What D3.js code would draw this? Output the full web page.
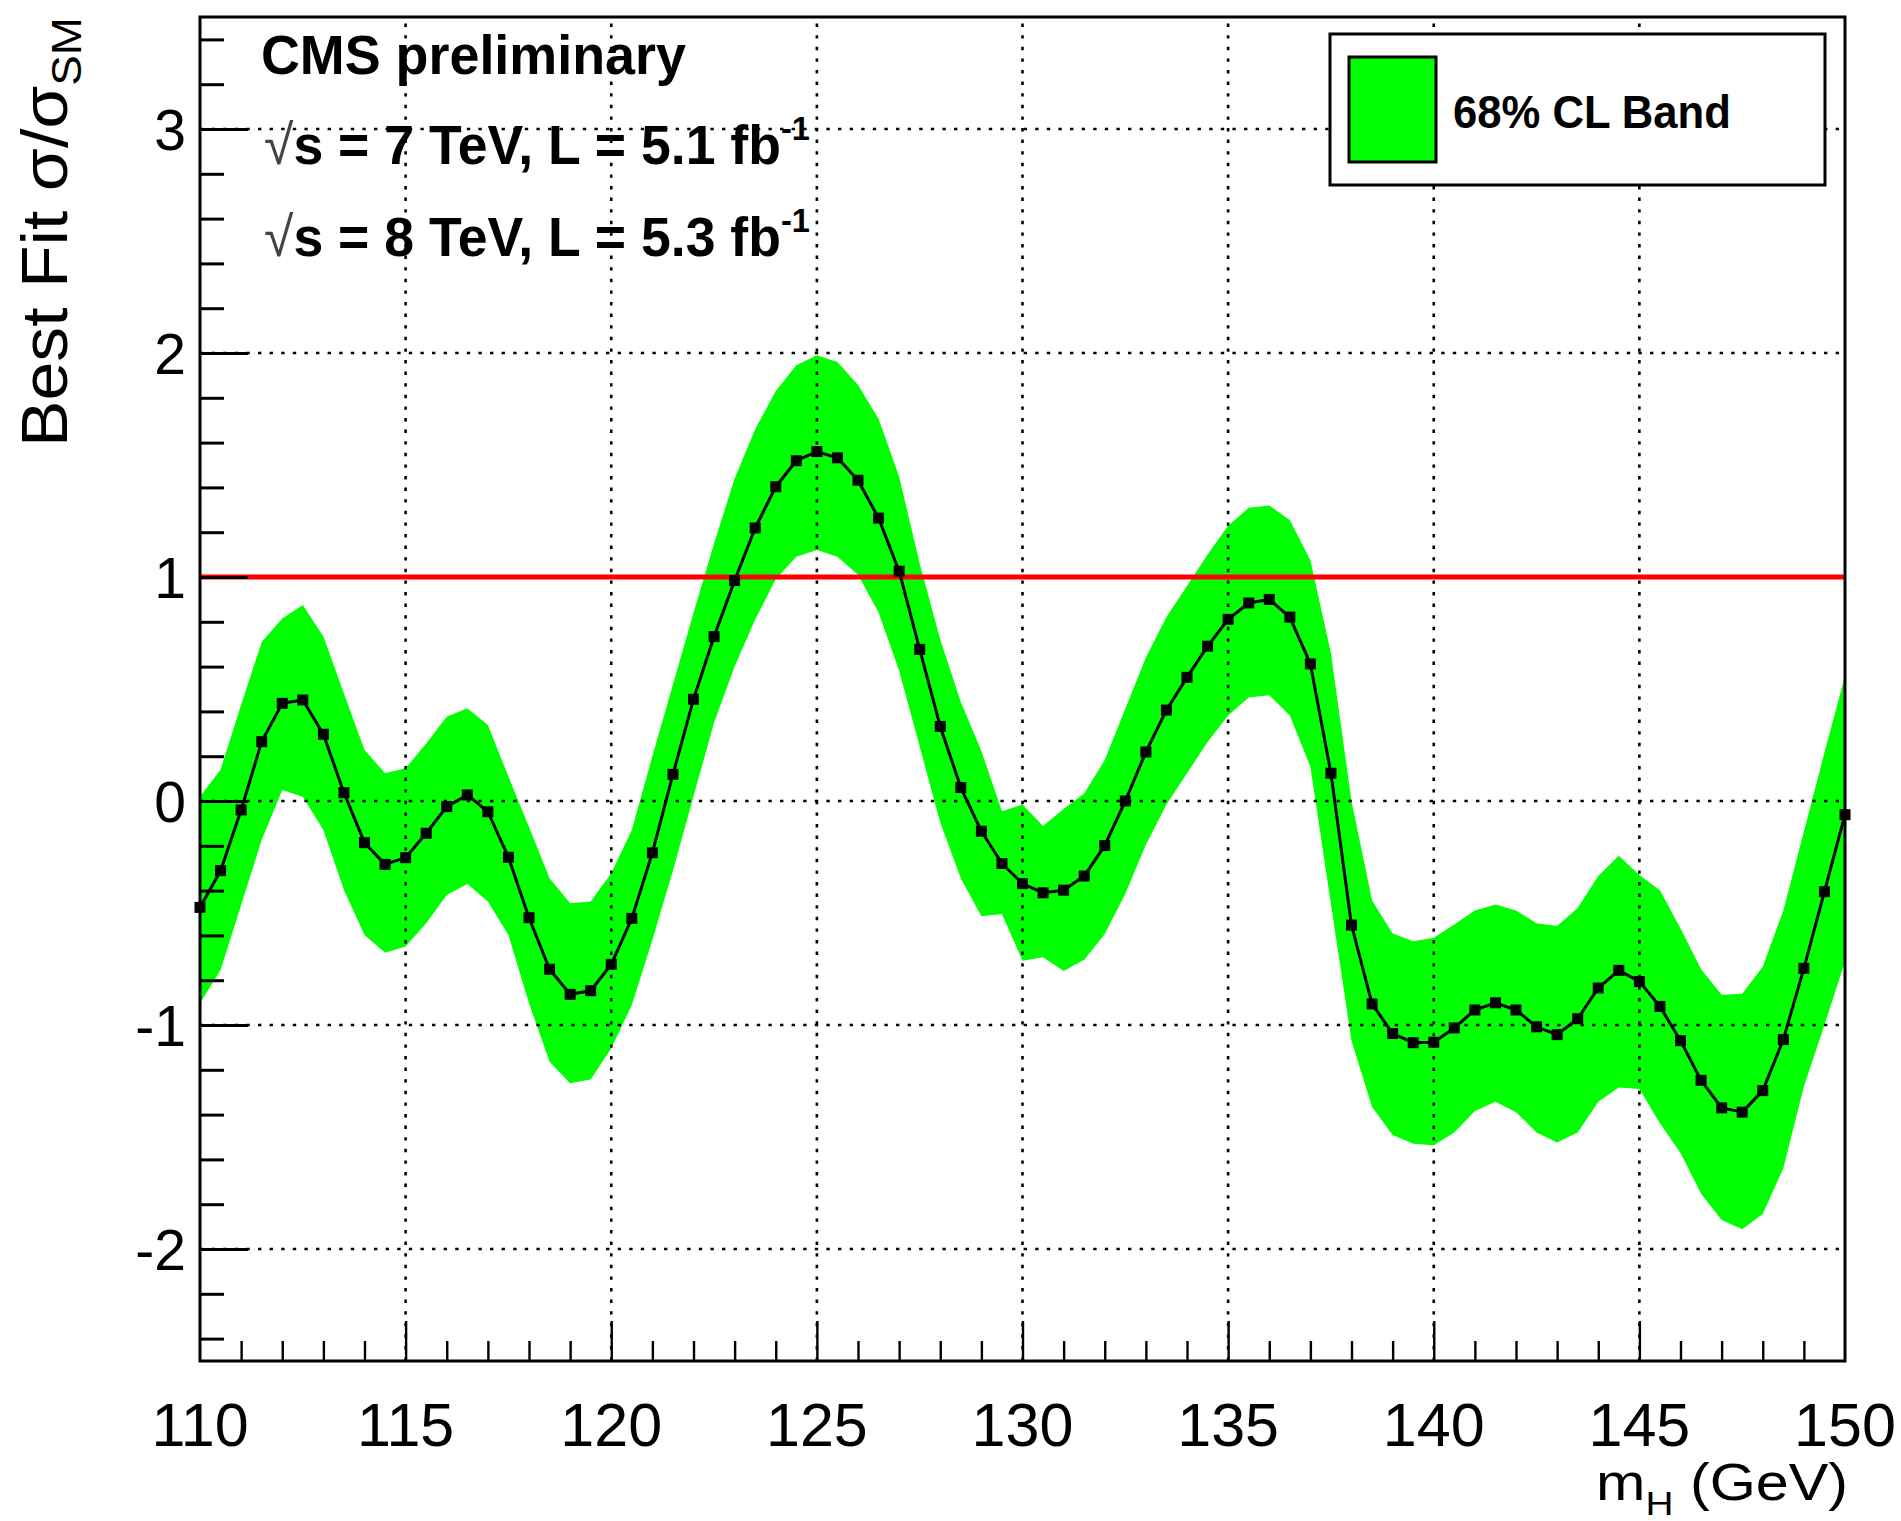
<!DOCTYPE html>
<html>
<head>
<meta charset="utf-8">
<script src="https://cdn.jsdelivr.net/npm/d3@7"></script>
<style>
  html, body { margin: 0; padding: 0; background: #ffffff; }
  svg { display: block; }
</style>
</head>
<body>
<svg id="chart" width="1901" height="1521"></svg>
<script>
// Higgs mass hypotheses (GeV)
const massPoints = [
  110, 110.5, 111, 111.5, 112, 112.5, 113, 113.5, 114, 114.5,
  115, 115.5, 116, 116.5, 117, 117.5, 118, 118.5, 119, 119.5,
  120, 120.5, 121, 121.5, 122, 122.5, 123, 123.5, 124, 124.5,
  125, 125.5, 126, 126.5, 127, 127.5, 128, 128.5, 129, 129.5,
  130, 130.5, 131, 131.5, 132, 132.5, 133, 133.5, 134, 134.5,
  135, 135.5, 136, 136.5, 137, 137.5, 138, 138.5, 139, 139.5,
  140, 140.5, 141, 141.5, 142, 142.5, 143, 143.5, 144, 144.5,
  145, 145.5, 146, 146.5, 147, 147.5, 148, 148.5, 149, 149.5,
  150
];

// Best-fit signal strength sigma/sigma_SM
const bestFit = [
  -0.475, -0.311, -0.040, 0.265, 0.436, 0.451, 0.298, 0.037, -0.186, -0.283,
  -0.253, -0.144, -0.025, 0.027, -0.048, -0.251, -0.521, -0.751, -0.863, -0.847,
  -0.729, -0.524, -0.231, 0.119, 0.454, 0.734, 0.984, 1.219, 1.403, 1.519,
  1.560, 1.532, 1.432, 1.263, 1.026, 0.677, 0.333, 0.060, -0.135, -0.279,
  -0.369, -0.410, -0.398, -0.335, -0.199, 0.000, 0.219, 0.406, 0.552, 0.691,
  0.811, 0.884, 0.900, 0.821, 0.612, 0.124, -0.554, -0.906, -1.038, -1.079,
  -1.077, -1.013, -0.933, -0.901, -0.933, -1.008, -1.043, -0.972, -0.835, -0.756,
  -0.806, -0.917, -1.070, -1.247, -1.370, -1.389, -1.293, -1.065, -0.747, -0.405,
  -0.061
];

// 68% CL band, upper edge
const bandUpper = [
  0.020, 0.140, 0.430, 0.710, 0.815, 0.875, 0.734, 0.480, 0.228, 0.124,
  0.146, 0.257, 0.376, 0.414, 0.339, 0.109, -0.116, -0.345, -0.457, -0.449,
  -0.323, -0.129, 0.200, 0.520, 0.840, 1.150, 1.440, 1.660, 1.830, 1.945,
  1.990, 1.960, 1.857, 1.707, 1.448, 1.060, 0.721, 0.442, 0.223, -0.046,
  -0.016, -0.112, -0.036, 0.034, 0.183, 0.412, 0.641, 0.821, 0.960, 1.100,
  1.229, 1.309, 1.319, 1.255, 1.075, 0.660, 0.000, -0.444, -0.592, -0.626,
  -0.610, -0.551, -0.489, -0.462, -0.489, -0.546, -0.558, -0.478, -0.335, -0.244,
  -0.330, -0.398, -0.569, -0.751, -0.865, -0.860, -0.740, -0.489, -0.137, 0.216,
  0.558
];

// 68% CL band, lower edge
const bandLower = [
  -0.903, -0.754, -0.464, -0.174, 0.049, 0.019, -0.129, -0.397, -0.598, -0.677,
  -0.650, -0.546, -0.420, -0.371, -0.449, -0.598, -0.903, -1.164, -1.260, -1.243,
  -1.104, -0.911, -0.620, -0.310, 0.020, 0.350, 0.600, 0.810, 0.990, 1.090,
  1.120, 1.090, 1.010, 0.841, 0.582, 0.243, -0.096, -0.345, -0.514, -0.504,
  -0.713, -0.697, -0.759, -0.709, -0.594, -0.414, -0.195, -0.016, 0.124, 0.263,
  0.382, 0.462, 0.472, 0.382, 0.153, -0.460, -1.070, -1.366, -1.491, -1.530,
  -1.537, -1.480, -1.384, -1.343, -1.389, -1.480, -1.525, -1.480, -1.343, -1.279,
  -1.286, -1.439, -1.571, -1.753, -1.871, -1.912, -1.844, -1.639, -1.275, -1.000,
  -0.717
];

const xTickValues = [110, 115, 120, 125, 130, 135, 140, 145, 150];
const yTickValues = [-2, -1, 0, 1, 2, 3];
const smExpectation = 1;

const FONT = "'Liberation Sans', Arial, Helvetica, sans-serif";
const W = 1901, H = 1521;
const plot = { left: 200, right: 1845, top: 17, bottom: 1361 };

const svg = d3.select('#chart');
svg.append('rect').attr('width', W).attr('height', H).attr('fill', '#ffffff');

const x = d3.scaleLinear().domain([110, 150]).range([plot.left, plot.right]);
const y = d3.scaleLinear().domain([-2.5, 3.5]).range([plot.bottom, plot.top]);

const rows = massPoints.map((m, i) => ({ m, mu: bestFit[i], hi: bandUpper[i], lo: bandLower[i] }));

// 68% CL band
const band = d3.area()
  .x(d => x(d.m))
  .y0(d => y(d.lo))
  .y1(d => y(d.hi));
svg.append('path')
  .datum(rows)
  .attr('d', band)
  .attr('fill', '#00ff00')
  .attr('stroke', 'none');

// Dotted grid at the major ticks
const grid = svg.append('g')
  .attr('stroke', '#000')
  .attr('stroke-width', 2.6)
  .attr('stroke-dasharray', '3.4,8.2')
  .attr('fill', 'none');
grid.selectAll('line.gx')
  .data(xTickValues.filter(v => v > 110 && v < 150))
  .join('line')
  .attr('class', 'gx')
  .attr('x1', d => x(d)).attr('x2', d => x(d))
  .attr('y1', plot.bottom).attr('y2', plot.top);
grid.selectAll('line.gy')
  .data(yTickValues)
  .join('line')
  .attr('class', 'gy')
  .attr('x1', plot.left).attr('x2', plot.right)
  .attr('y1', d => y(d)).attr('y2', d => y(d));

// SM expectation
svg.append('line')
  .attr('x1', x(110)).attr('x2', x(150))
  .attr('y1', y(smExpectation)).attr('y2', y(smExpectation))
  .attr('stroke', '#ff0000')
  .attr('stroke-width', 5);

// Best-fit curve with markers
const line = d3.line().x(d => x(d.m)).y(d => y(d.mu));
svg.append('path')
  .datum(rows)
  .attr('d', line)
  .attr('fill', 'none')
  .attr('stroke', '#000')
  .attr('stroke-width', 3)
  .attr('stroke-linejoin', 'round');
const mk = 11;
svg.append('g').selectAll('rect')
  .data(rows)
  .join('rect')
  .attr('x', d => x(d.m) - mk / 2)
  .attr('y', d => y(d.mu) - mk / 2)
  .attr('width', mk)
  .attr('height', mk)
  .attr('fill', '#000');

// Axes: ticks drawn inward, frame around the pad
const yAxis = d3.axisRight(y)
  .tickValues(d3.range(-24, 35, 2).map(v => v / 10))
  .tickSize(0)
  .tickFormat('');
const yAxisG = svg.append('g').attr('transform', `translate(${plot.left},0)`).call(yAxis);
yAxisG.select('.domain').remove();
yAxisG.selectAll('.tick line')
  .attr('x2', d => (Math.abs(d - Math.round(d)) < 1e-6 ? 48 : 24))
  .attr('stroke', '#000')
  .attr('stroke-width', 3);

const xAxis = d3.axisTop(x)
  .tickValues(d3.range(111, 150, 1))
  .tickSize(0)
  .tickFormat('');
const xAxisG = svg.append('g').attr('transform', `translate(0,${plot.bottom})`).call(xAxis);
xAxisG.select('.domain').remove();
xAxisG.selectAll('.tick line')
  .attr('y2', d => (d % 5 === 0 ? -40 : -20))
  .attr('stroke', '#000')
  .attr('stroke-width', 2.4);

svg.append('rect')
  .attr('x', plot.left).attr('y', plot.top)
  .attr('width', plot.right - plot.left)
  .attr('height', plot.bottom - plot.top)
  .attr('fill', 'none')
  .attr('stroke', '#000')
  .attr('stroke-width', 3);

// Tick labels
svg.append('g').selectAll('text')
  .data(xTickValues)
  .join('text')
  .attr('x', d => x(d))
  .attr('y', 1446)
  .attr('text-anchor', 'middle')
  .attr('font-family', FONT)
  .attr('font-size', 61)
  .attr('fill', '#000')
  .text(d => d);

svg.append('g').selectAll('text')
  .data(yTickValues)
  .join('text')
  .attr('x', 186)
  .attr('y', d => y(d))
  .attr('dy', '0.36em')
  .attr('text-anchor', 'end')
  .attr('font-family', FONT)
  .attr('font-size', 57)
  .attr('fill', '#000')
  .text(d => d);

// Stretch a text element horizontally about its anchor to a given width
function fitWidth(sel, anchorX, target) {
  const w = sel.node().getBBox().width;
  const s = target / w;
  sel.attr('transform', `translate(${anchorX},0) scale(${s},1) translate(${-anchorX},0)`);
}

// Axis titles
const xTitle = svg.append('text')
  .attr('x', 1848)
  .attr('y', 1500)
  .attr('text-anchor', 'end')
  .attr('font-family', FONT)
  .attr('font-size', 52)
  .attr('fill', '#000');
xTitle.append('tspan').text('m');
xTitle.append('tspan').attr('font-size', 34).attr('dy', 15).text('H');
xTitle.append('tspan').attr('dy', -15).text(' (GeV)');
fitWidth(xTitle, 1848, 252);

const yTitleG = svg.append('g').attr('transform', 'translate(67,17) rotate(-90)');
const yTitle = yTitleG.append('text')
  .attr('x', 0)
  .attr('y', 0)
  .attr('text-anchor', 'end')
  .attr('font-family', FONT)
  .attr('font-size', 64)
  .attr('fill', '#000');
yTitle.append('tspan').text('Best Fit σ/σ');
yTitle.append('tspan').attr('font-size', 42).attr('dy', 14).text('SM');
fitWidth(yTitle, 0, 430);

// Experiment and luminosity labels
const cms = svg.append('text')
  .attr('x', 261).attr('y', 74)
  .attr('font-family', FONT)
  .attr('font-weight', 'bold')
  .attr('font-size', 56)
  .attr('fill', '#000')
  .text('CMS preliminary');
fitWidth(cms, 261, 425);

function lumiLine(yBase, energy, lumi) {
  const t = svg.append('text')
    .attr('x', 264).attr('y', yBase)
    .attr('font-family', FONT)
    .attr('font-weight', 'bold')
    .attr('font-size', 56)
    .attr('fill', '#000');
  t.append('tspan').attr('font-weight', 'normal').attr('fill', '#444').text('√');
  t.append('tspan').text(`s = ${energy} TeV, L = ${lumi} fb`);
  t.append('tspan').attr('font-size', 34).attr('dy', -24).text('-1');
  fitWidth(t, 264, 546);
}
lumiLine(164, 7, '5.1');
lumiLine(256, 8, '5.3');

// Legend
const legend = svg.append('g');
legend.append('rect')
  .attr('x', 1330).attr('y', 34)
  .attr('width', 495).attr('height', 151)
  .attr('fill', '#ffffff')
  .attr('stroke', '#000')
  .attr('stroke-width', 3);
legend.append('rect')
  .attr('x', 1349).attr('y', 57)
  .attr('width', 87).attr('height', 105)
  .attr('fill', '#00ff00')
  .attr('stroke', '#000')
  .attr('stroke-width', 3);
const legText = legend.append('text')
  .attr('x', 1453).attr('y', 128)
  .attr('font-family', FONT)
  .attr('font-weight', 'bold')
  .attr('font-size', 46)
  .attr('fill', '#000')
  .text('68% CL Band');
fitWidth(legText, 1453, 278);
</script>
</body>
</html>
